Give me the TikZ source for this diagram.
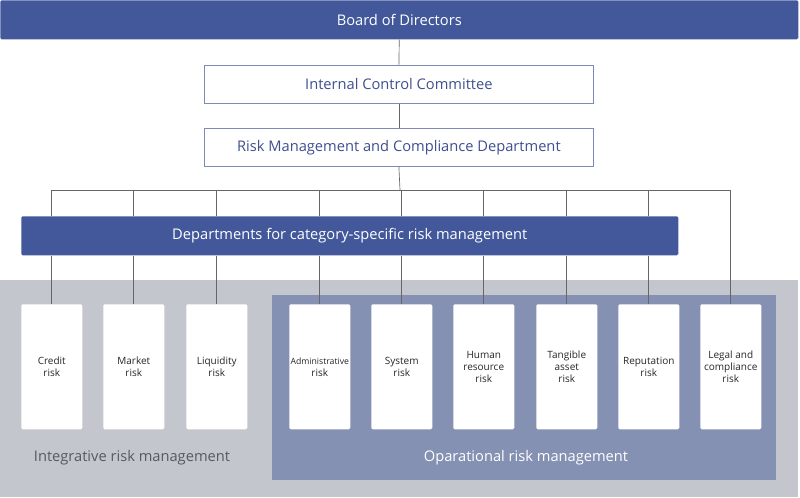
\documentclass[tikz,border=0pt]{standalone}
\usepackage{fontspec}
\setmainfont{Open Sans}
\definecolor{navy}{HTML}{43589A}
\definecolor{ltxt}{HTML}{3F4F8F}
\definecolor{bgray}{HTML}{C3C7CD}
\definecolor{opblue}{HTML}{8591B3}
\definecolor{lnc}{HTML}{666666}
\definecolor{gtxt}{HTML}{555A60}
\begin{document}
\begin{tikzpicture}[x=0.75pt,y=-0.75pt,
  bar/.style={fill=navy,draw=none,rounded corners=1pt,text=white,font=\fontsize{11}{13}\selectfont,anchor=north west,inner sep=0pt},
  wbox/.style={fill=white,draw=navy!70,line width=0.6pt,text=ltxt,font=\fontsize{11}{13}\selectfont,anchor=north west,inner sep=0pt},
  rbox/.style={fill=white,draw=none,rounded corners=1pt,text=black!85,font=\fontsize{7.5}{9}\selectfont,align=center,anchor=north west,inner sep=0pt,minimum width=45.75pt,minimum height=93.75pt},
  ln/.style={draw=lnc,line width=0.5pt}]
\useasboundingbox (0,0) rectangle (800,497);
\fill[bgray] (0,280) rectangle (798,497);
\fill[opblue] (272,295) rectangle (776,480);
\node[bar,minimum width=598.5pt,minimum height=29.25pt] (bod) at (0,0) {Board of Directors};
\node[wbox,minimum width=291.75pt,minimum height=28.5pt] (icc) at (204,65) {Internal Control Committee};
\node[wbox,minimum width=291.75pt,minimum height=28.5pt] (rmc) at (204,128) {Risk Management and Compliance Department};
\coordinate (hub) at (400,190);
\draw[ln] (bod.south) -- (icc.north);
\draw[ln] (icc.south) -- (rmc.north);
\draw[ln] (rmc.south) -- (hub);
\draw[ln] (51,190) -- (731,190);
\node[bar,minimum width=492.75pt,minimum height=29.25pt] (dep) at (21,216) {Departments for category-specific risk management};
\foreach \n/\x/\t in {cr/21/{Credit\\risk},mk/103/{Market\\risk},lq/186/{Liquidity\\risk},ad/289/{\fontsize{6.5}{9}\selectfont Administrative\\risk},sy/371/{System\\risk},hu/453/{Human\\resource\\risk},ta/536/{Tangible\\asset\\risk},re/618/{Reputation\\risk},le/700/{Legal and\\compliance\\risk}}
  \node[rbox] (\n) at (\x,304) {\t};
\foreach \n in {cr,mk,lq,ad,sy,hu,ta,re}{
  \draw[ln] (\n.north |- 0,190) -- (\n.north |- dep.north);
  \draw[ln] (\n.north |- dep.south) -- (\n.north);
}
\draw[ln] (le.north |- 0,190) -- (le.north);
\node[text=gtxt,font=\fontsize{11}{13}\selectfont] (irm) at (132,458) {Integrative risk management};
\node[text=white,font=\fontsize{11}{13}\selectfont] (orm) at (526,458) {Oparational risk management};
\end{tikzpicture}
\end{document}
